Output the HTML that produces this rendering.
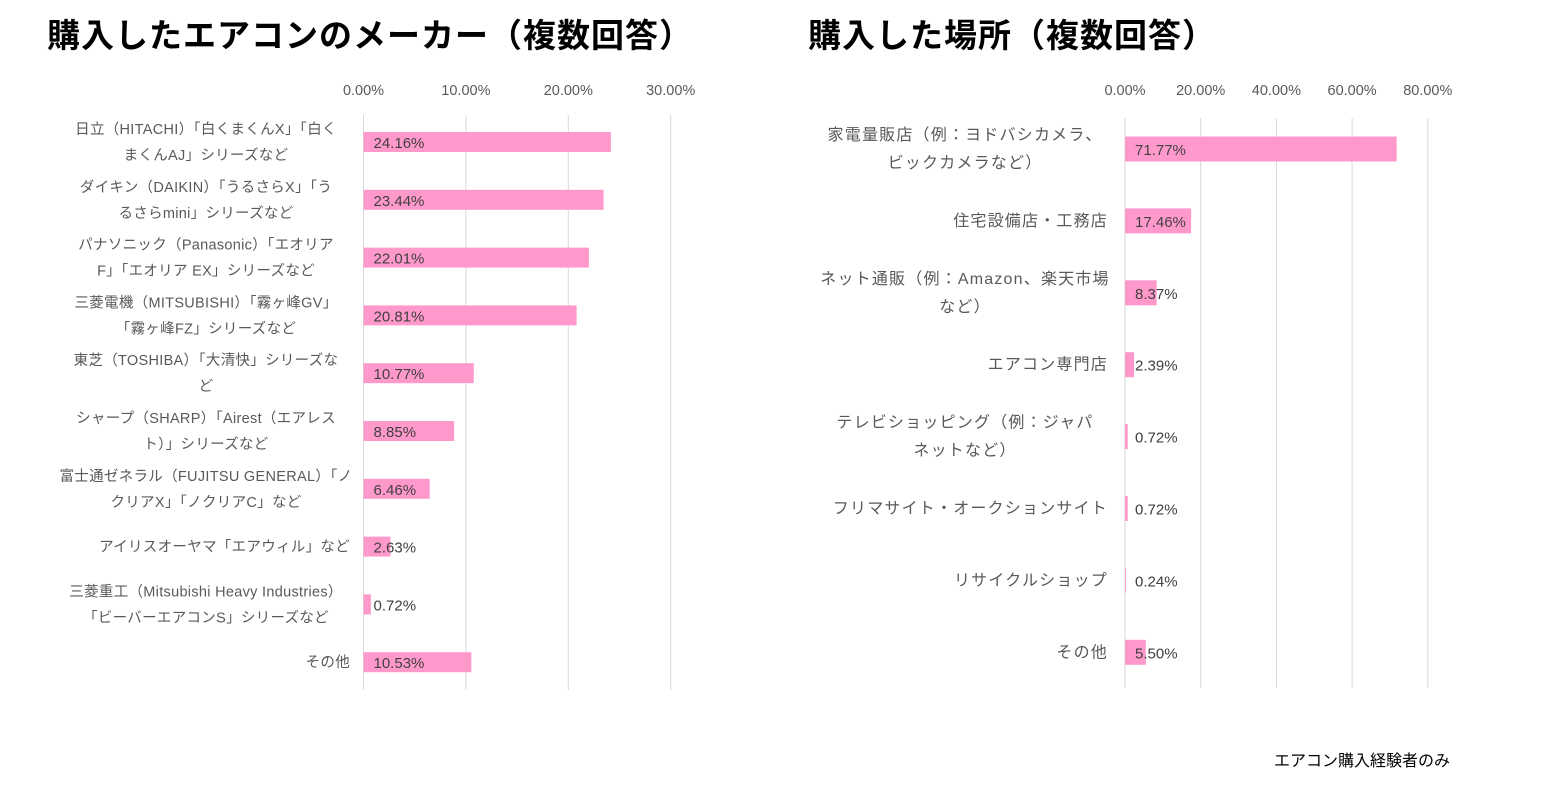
<!DOCTYPE html>
<html><head><meta charset="utf-8"><style>
body{margin:0;background:#fff;}
svg text{font-family:"Liberation Sans","Noto Sans CJK JP",sans-serif;}
</style></head><body>
<svg width="1547" height="789">
<text x="47" y="47" font-size="33" font-weight="bold" fill="#000" letter-spacing="1">購入したエアコンのメーカー（複数回答）</text>
<text x="808" y="47" font-size="33" font-weight="bold" fill="#000" letter-spacing="1">購入した場所（複数回答）</text>
<g id="left"></g>
<g id="right"></g>
<text x="1450" y="766" font-size="16" fill="#000" text-anchor="end">エアコン購入経験者のみ</text>
</svg>
<script>
const makerLabels=[["日立（HITACHI）「白くまくんX」「白く","まくんAJ」シリーズなど"],["ダイキン（DAIKIN）「うるさらX」「う","るさらmini」シリーズなど"],["パナソニック（Panasonic）「エオリア","F」「エオリア EX」シリーズなど"],["三菱電機（MITSUBISHI）「霧ヶ峰GV」","「霧ヶ峰FZ」シリーズなど"],["東芝（TOSHIBA）「大清快」シリーズな","ど"],["シャープ（SHARP）「Airest（エアレス","ト）」シリーズなど"],["富士通ゼネラル（FUJITSU GENERAL）「ノ","クリアX」「ノクリアC」など"],["アイリスオーヤマ「エアウィル」など"],["三菱重工（Mitsubishi Heavy Industries）","「ビーバーエアコンS」シリーズなど"],["その他"]];
const makerValues=[24.16,23.44,22.01,20.81,10.77,8.85,6.46,2.63,0.72,10.53];
const makerTicks=[0,10,20,30];
const placeLabels=[["家電量販店（例：ヨドバシカメラ、","ビックカメラなど）"],["住宅設備店・工務店"],["ネット通販（例：Amazon、楽天市場","など）"],["エアコン専門店"],["テレビショッピング（例：ジャパ","ネットなど）"],["フリマサイト・オークションサイト"],["リサイクルショップ"],["その他"]];
const placeValues=[71.77,17.46,8.37,2.39,0.72,0.72,0.24,5.50];
const placeTicks=[0,20,40,60,80];
const NS="http://www.w3.org/2000/svg";
function mk(p,tag,a,t){const e=document.createElementNS(NS,tag);for(const k in a)e.setAttribute(k,a[k]);if(t!==undefined)e.textContent=t;p.appendChild(e);return e;}
function draw(g,o){
 const xs=v=>o.x0+v*o.ppu;
 o.ticks.forEach(t=>{
  const l=mk(g,'line',{x1:xs(t),x2:xs(t),y1:o.gy0,y2:o.gy1,stroke:'#d9d9d9','stroke-width':1});
  
  const tx=mk(g,'text',{x:xs(t),y:95,'font-size':14.5,fill:'#595959','text-anchor':'middle'},t.toFixed(2)+'%');
  
 });
 o.values.forEach((v,i)=>{
  const cy=o.cy0+i*o.step;
  const r=mk(g,'rect',{x:xs(0),y:cy-o.bh/2,width:Math.max(v*o.ppu,0.5),height:o.bh,fill:'#ff99cc'});
  
  const vt=mk(g,'text',{x:xs(0)+10,y:cy+6,'font-size':15,fill:'#404040'},v.toFixed(2)+'%');
  
  const lines=o.labels[i];
  lines.forEach((ln,j)=>{
   const y=cy+5+(j-(lines.length-1)/2)*o.lh;
   const single=lines.length===1;
   const t=mk(g,'text',{x:single?o.lx1:o.lxc,y:y,'font-size':o.fs,fill:'#595959','letter-spacing':o.ls,'text-anchor':single?'end':'middle'},ln);
   
  });
 });
}
draw(document.getElementById('left'),{x0:363.5,ppu:10.24,ticks:makerTicks,values:makerValues,labels:makerLabels,gy0:115,gy1:690,cy0:142,step:57.8,bh:20,lh:26,fs:14.5,ls:0.3,lx1:350,lxc:206});
draw(document.getElementById('right'),{x0:1125,ppu:3.785,ticks:placeTicks,values:placeValues,labels:placeLabels,gy0:118,gy1:688,cy0:149,step:71.9,bh:25,lh:28,fs:16,ls:1.2,lx1:1108,lxc:965});
</script>
</body></html>
